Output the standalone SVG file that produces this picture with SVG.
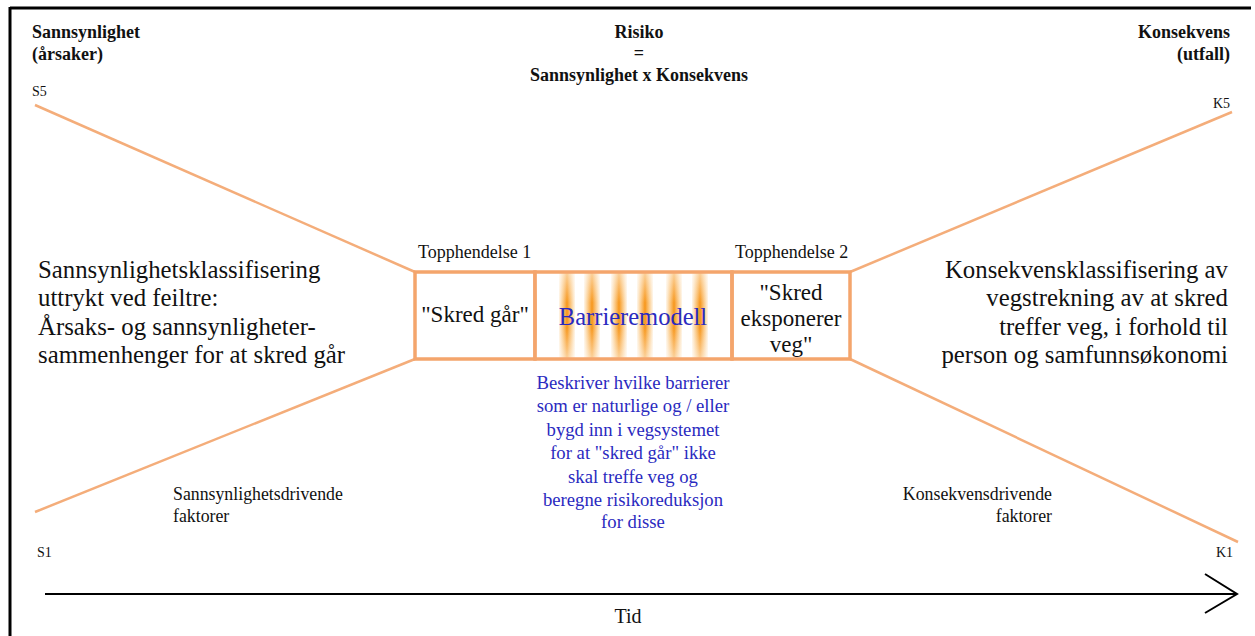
<svg xmlns="http://www.w3.org/2000/svg" width="1255" height="636" viewBox="0 0 1255 636">
<style>
.t{font-family:"Liberation Serif","Times New Roman",serif;fill:#111}
.b{font-weight:bold}
.blue{fill:#2a2ac0}
.or{stroke:#f4ad7a;fill:none}
.box{stroke:#f4a56c;stroke-width:3.5;fill:none}
.k{stroke:#000;fill:none}
</style>
<defs>
<linearGradient id="stripe" x1="0" y1="0" x2="1" y2="0">
<stop offset="0" stop-color="#f8a22a" stop-opacity="0.1"/>
<stop offset="0.5" stop-color="#f7961a" stop-opacity="1"/>
<stop offset="1" stop-color="#f8a22a" stop-opacity="0.1"/>
</linearGradient>
<linearGradient id="fade" x1="0" y1="0" x2="0" y2="1">
<stop offset="0" stop-color="#fff" stop-opacity="0.55"/>
<stop offset="0.35" stop-color="#fff" stop-opacity="0"/>
<stop offset="0.65" stop-color="#fff" stop-opacity="0"/>
<stop offset="1" stop-color="#fff" stop-opacity="0.55"/>
</linearGradient>
</defs>
<rect width="1255" height="636" fill="#fff"/>
<g id="frame" class="k">
<line x1="10" y1="8" x2="1251" y2="8" stroke-width="3"/>
<line x1="10" y1="7" x2="10" y2="636" stroke-width="3"/>
</g>
<g id="headers">
<text class="t b" x="32" y="38" font-size="18">Sannsynlighet</text>
<text class="t b" x="32" y="60" font-size="18">(årsaker)</text>
<text class="t" x="32" y="96" font-size="14">S5</text>
<text class="t b" x="639" y="38" font-size="18" text-anchor="middle">Risiko</text>
<text class="t b" x="639" y="59" font-size="18" text-anchor="middle">=</text>
<text class="t b" x="639" y="81" font-size="18" text-anchor="middle">Sannsynlighet x Konsekvens</text>
<text class="t b" x="1230" y="38" font-size="18" text-anchor="end">Konsekvens</text>
<text class="t b" x="1230" y="60" font-size="18" text-anchor="end">(utfall)</text>
<text class="t" x="1230" y="108" font-size="14" text-anchor="end">K5</text>
<text class="t" x="37" y="557" font-size="14">S1</text>
<text class="t" x="1233" y="557" font-size="14" text-anchor="end">K1</text>
</g>
<g id="connectors">
<line class="or" x1="35" y1="105" x2="415" y2="272" stroke-width="2.5"/>
<line class="or" x1="35" y1="512" x2="415" y2="359" stroke-width="2.5"/>
<line class="or" x1="850" y1="272" x2="1232" y2="112" stroke-width="2.5"/>
<line class="or" x1="850" y1="359" x2="1238" y2="542" stroke-width="2.5"/>
</g>
<g id="left-text">
<text class="t" x="38" y="278" font-size="24.8">Sannsynlighetsklassifisering</text>
<text class="t" x="38" y="306" font-size="24.8">uttrykt ved feiltre:</text>
<text class="t" x="38" y="335" font-size="24.8">Årsaks- og sannsynligheter-</text>
<text class="t" x="38" y="363" font-size="24.8">sammenhenger for at skred går</text>
</g>
<g id="right-text">
<text class="t" x="1228" y="278" font-size="24.8" text-anchor="end">Konsekvensklassifisering av</text>
<text class="t" x="1228" y="306" font-size="24.8" text-anchor="end">vegstrekning av at skred</text>
<text class="t" x="1228" y="335" font-size="24.8" text-anchor="end">treffer veg, i forhold til</text>
<text class="t" x="1228" y="363" font-size="24.8" text-anchor="end">person og samfunnsøkonomi</text>
</g>
<g id="top1">
<text class="t" x="418" y="258" font-size="18">Topphendelse 1</text>
<rect class="box" x="415" y="272" width="120" height="87"/>
<text class="t" x="475" y="322" font-size="23" text-anchor="middle">"Skred går"</text>
</g>
<g id="barrier">
<rect x="559" y="273" width="16" height="85" fill="url(#stripe)"/>
<rect x="584" y="273" width="16" height="85" fill="url(#stripe)"/>
<rect x="611" y="273" width="16" height="85" fill="url(#stripe)"/>
<rect x="637" y="273" width="16" height="85" fill="url(#stripe)"/>
<rect x="666" y="273" width="16" height="85" fill="url(#stripe)"/>
<rect x="692" y="273" width="16" height="85" fill="url(#stripe)"/>
<rect x="536" y="273" width="195" height="85" fill="url(#fade)"/>
<rect class="box" x="535" y="272" width="197" height="87"/>
<text class="t blue" x="633" y="325" font-size="24.5" text-anchor="middle">Barrieremodell</text>
</g>
<g id="top2">
<text class="t" x="735" y="258" font-size="18">Topphendelse 2</text>
<rect class="box" x="732" y="272" width="118" height="87"/>
<text class="t" x="791" y="300" font-size="23" text-anchor="middle">"Skred</text>
<text class="t" x="791" y="326" font-size="23" text-anchor="middle">eksponerer</text>
<text class="t" x="791" y="352" font-size="23" text-anchor="middle">veg"</text>
</g>
<g id="barrier-desc">
<text class="t blue" x="633" y="389" font-size="18.7" text-anchor="middle">Beskriver hvilke barrierer</text>
<text class="t blue" x="633" y="412" font-size="18.7" text-anchor="middle">som er naturlige og / eller</text>
<text class="t blue" x="633" y="436" font-size="18.7" text-anchor="middle">bygd inn i vegsystemet</text>
<text class="t blue" x="633" y="459" font-size="18.7" text-anchor="middle">for at "skred går" ikke</text>
<text class="t blue" x="633" y="483" font-size="18.7" text-anchor="middle">skal treffe veg og</text>
<text class="t blue" x="633" y="506" font-size="18.7" text-anchor="middle">beregne risikoreduksjon</text>
<text class="t blue" x="633" y="528" font-size="18.7" text-anchor="middle">for disse</text>
</g>
<g id="drivers">
<text class="t" x="173" y="500" font-size="17.8">Sannsynlighetsdrivende</text>
<text class="t" x="173" y="522" font-size="17.8">faktorer</text>
<text class="t" x="1052" y="500" font-size="17.8" text-anchor="end">Konsekvensdrivende</text>
<text class="t" x="1052" y="522" font-size="17.8" text-anchor="end">faktorer</text>
</g>
<g id="time-axis">
<line class="k" x1="45" y1="594" x2="1237" y2="594" stroke-width="2"/>
<polyline class="k" points="1205,574 1237,594 1205,613" stroke-width="2"/>
<text class="t" x="628" y="623" font-size="20" text-anchor="middle">Tid</text>
</g>
</svg>
